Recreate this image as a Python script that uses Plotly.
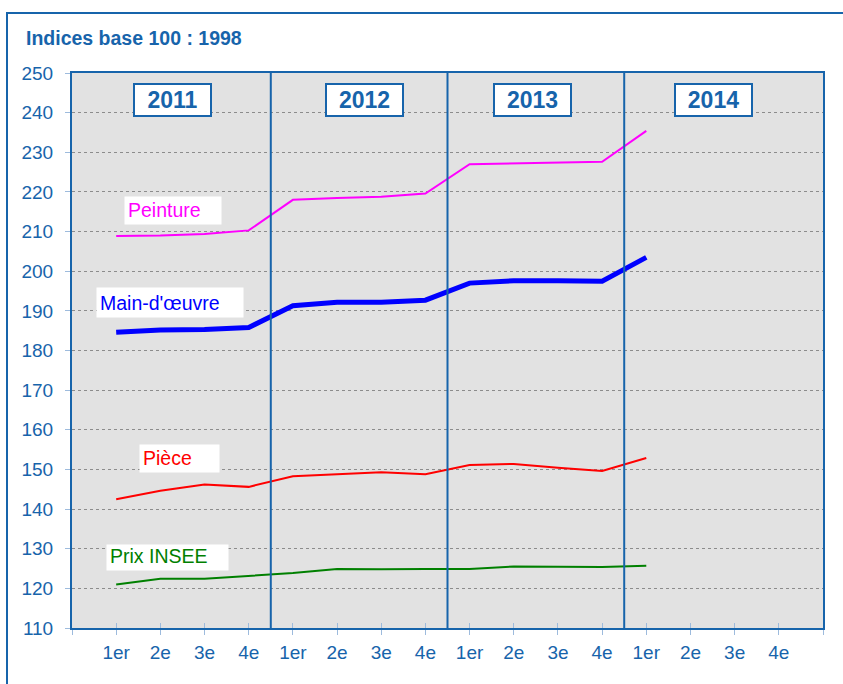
import plotly.graph_objects as go

quarter_labels = ["1er", "2e", "3e", "4e"] * 4
years = ["2011", "2012", "2013", "2014"]
positions = list(range(1, 17))

peinture = [208.9, 209.0, 209.4, 210.3, 218.0, 218.5, 218.8, 219.6, 227.0, 227.2, 227.4, 227.6, 235.4]
main_oeuvre = [184.6, 185.2, 185.3, 185.8, 191.3, 192.2, 192.2, 192.7, 197.0, 197.6, 197.6, 197.5, 203.5]
piece = [142.5, 144.6, 146.2, 145.6, 148.3, 148.8, 149.3, 148.8, 151.1, 151.4, 150.4, 149.6, 152.9]
prix_insee = [121.0, 122.4, 122.4, 123.1, 123.9, 124.9, 124.8, 124.9, 124.9, 125.5, 125.5, 125.4, 125.7]

BLUE = "#1764AB"
TICKBLUE = "#9DBBDD"
FONT = "Liberation Sans, Arial, sans-serif"

# name, values, colour, line width, label box centre x (category units), centre y, box width, box height
series = [
    ("Peinture", peinture, "#FF00FF", 2, 2.29, 215.2, 96, 27),
    ("Main-d'œuvre", main_oeuvre, "#0000FF", 5, 2.21, 192.0, 146, 29),
    ("Pièce", piece, "#FF0000", 2, 2.43, 152.7, 79, 27),
    ("Prix INSEE", prix_insee, "#008000", 2, 2.16, 127.9, 121, 25),
]

fig = go.Figure()
annotations = []
for name, vals, color, width, lx, ly, bw, bh in series:
    fig.add_trace(go.Scatter(
        x=positions[:len(vals)], y=vals, mode="lines", name=name,
        line=dict(color=color, width=width), showlegend=False, hoverinfo="skip",
    ))
    annotations.append(dict(
        x=lx, y=ly, xref="x", yref="y", text=name, showarrow=False,
        font=dict(family=FONT, size=19.5, color=color),
        bgcolor="white", borderpad=3, width=bw - 6, height=bh - 6, align="left",
        valign="bottom", xanchor="center", yanchor="middle",
    ))

# dummy trace for overlay axis (inside tick marks)
fig.add_trace(go.Scatter(x=[0, 17], y=[110, 110], xaxis="x2", mode="lines",
                         line=dict(width=0), showlegend=False, hoverinfo="skip"))

year_x = [2.27, 6.63, 10.43, 14.52]
for yr, xx in zip(years, year_x):
    annotations.append(dict(
        x=xx, y=243.3, xref="x", yref="y", text="<b>%s</b>" % yr, showarrow=False,
        font=dict(family=FONT, size=23, color=BLUE),
        bgcolor="white", bordercolor=BLUE, borderwidth=2, borderpad=1,
        width=73, height=28, xanchor="center", yanchor="middle",
    ))

W, H = 843, 684
ml, mr, mt, mb = 72, 20, 73, 56
pw, ph = W - ml - mr, H - mt - mb

annotations.append(dict(
    x=(24 - ml) / pw, y=(H - mb - 38) / ph, xref="paper", yref="paper",
    text="<b>Indices base 100 : 1998</b>",
    showarrow=False, font=dict(family=FONT, size=19.5, color=BLUE),
    xanchor="left", yanchor="middle",
))

shapes = []
for xb in [4.5, 8.5, 12.5]:
    shapes.append(dict(type="line", xref="x", yref="paper", x0=xb, x1=xb, y0=0, y1=1,
                       line=dict(color=BLUE, width=2), layer="above"))
# outer frame
shapes.append(dict(type="rect", xref="paper", yref="paper",
                   x0=(7 - ml) / pw, x1=(W + 20 - ml) / pw,
                   y0=(H - mb - (H + 20)) / ph, y1=(H - mb - 13) / ph,
                   line=dict(color=BLUE, width=2), fillcolor="rgba(0,0,0,0)"))

tickvals = list(range(0, 18))
ticktext = [""] + quarter_labels + [""]

fig.update_layout(
    width=W, height=H,
    margin=dict(l=ml, r=mr, t=mt, b=mb),
    paper_bgcolor="white", plot_bgcolor="#E2E2E2",
    font=dict(family=FONT, color=BLUE),
    annotations=annotations, shapes=shapes,
    xaxis=dict(range=[0, 17], tickvals=tickvals, ticktext=ticktext,
               ticks="outside", ticklen=5, tickcolor=TICKBLUE, tickwidth=1,
               showgrid=False, zeroline=False,
               showline=True, linecolor=BLUE, linewidth=2, mirror=True,
               tickfont=dict(family=FONT, size=19, color=BLUE), ticklabelstandoff=1),
    xaxis2=dict(range=[0, 17], overlaying="x", anchor="y", side="bottom",
                tickvals=tickvals, ticks="inside", ticklen=5, tickcolor=TICKBLUE,
                tickwidth=1, showticklabels=False, showgrid=False, zeroline=False,
                showline=False),
    yaxis=dict(range=[110, 250], dtick=10, tick0=110,
               ticks="outside", ticklen=5, tickcolor=TICKBLUE, tickwidth=1,
               showgrid=True, gridcolor="#8C8C8C", gridwidth=1, griddash="dot",
               zeroline=False, showline=True, linecolor=BLUE, linewidth=2, mirror=True,
               tickfont=dict(family=FONT, size=19, color=BLUE), ticklabelstandoff=8),
)

fig.write_html("out.html", config={"displayModeBar": False},
               post_script="document.body.style.margin='0';document.body.style.overflow='hidden';")
